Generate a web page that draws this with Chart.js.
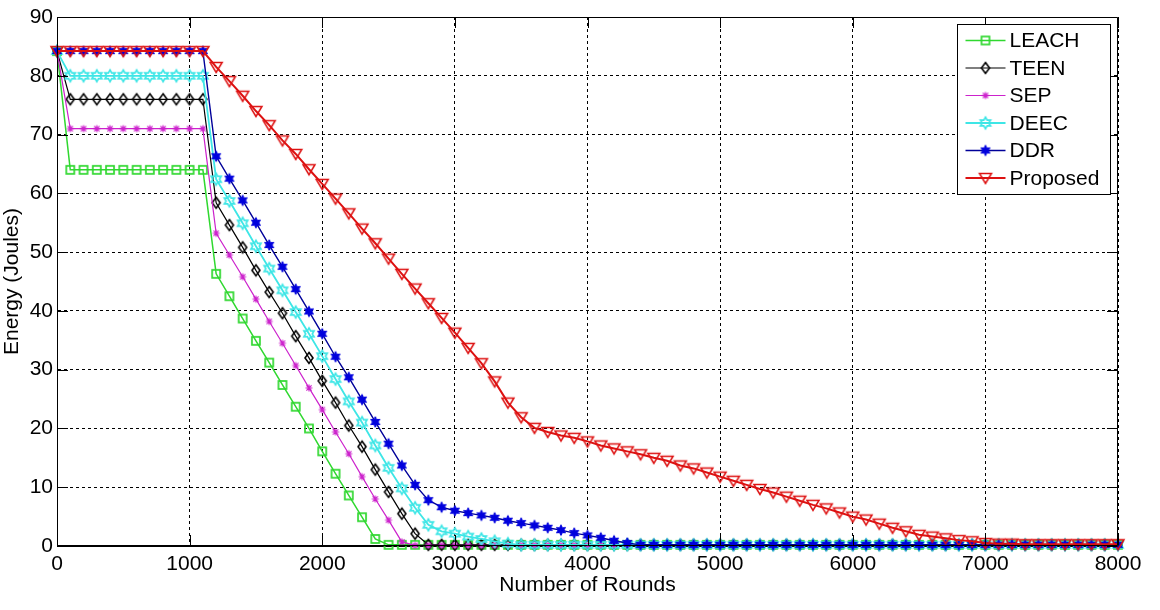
<!DOCTYPE html>
<html>
<head>
<meta charset="utf-8">
<script src="https://cdn.jsdelivr.net/npm/chart.js@4.4.1/dist/chart.umd.min.js"></script>
<style>
    html, body { margin: 0; padding: 0; background: #fff; }
    #wrap { width: 1160px; height: 610px; }
</style>
</head>
<body>
<div id="wrap"><canvas id="chart"></canvas></div>
<script>
const rounds = [
    0, 100, 200, 300, 400, 500, 600, 700, 800, 900,
    1000, 1100, 1200, 1300, 1400, 1500, 1600, 1700, 1800, 1900,
    2000, 2100, 2200, 2300, 2400, 2500, 2600, 2700, 2800, 2900,
    3000, 3100, 3200, 3300, 3400, 3500, 3600, 3700, 3800, 3900,
    4000, 4100, 4200, 4300, 4400, 4500, 4600, 4700, 4800, 4900,
    5000, 5100, 5200, 5300, 5400, 5500, 5600, 5700, 5800, 5900,
    6000, 6100, 6200, 6300, 6400, 6500, 6600, 6700, 6800, 6900,
    7000, 7100, 7200, 7300, 7400, 7500, 7600, 7700, 7800, 7900,
    8000
]

const leach = [
    84.2, 64, 64, 64, 64, 64, 64, 64, 64, 64,
    64, 64, 46.3, 42.5, 38.7, 34.9, 31.2, 27.4, 23.7, 20.0,
    16.1, 12.3, 8.6, 4.9, 1.2, 0.2, 0.2, 0.2, 0.2, 0.2,
    0.2, 0.2, 0.2, 0.2, 0.2, 0.2, 0.2, 0.2, 0.2, 0.2,
    0.2, 0.2, 0.2, 0.2, 0.2, 0.2, 0.2, 0.2, 0.2, 0.2,
    0.2, 0.2, 0.2, 0.2, 0.2, 0.2, 0.2, 0.2, 0.2, 0.2,
    0.2, 0.2, 0.2, 0.2, 0.2, 0.2, 0.2, 0.2, 0.2, 0.2,
    0.2, 0.2, 0.2, 0.2, 0.2, 0.2, 0.2, 0.2, 0.2, 0.2,
    0.2
]

const teen = [
    84.2, 76, 76, 76, 76, 76, 76, 76, 76, 76,
    76, 76, 58.4, 54.6, 50.8, 46.9, 43.2, 39.6, 35.7, 32.0,
    28.1, 24.4, 20.5, 16.9, 13.0, 9.2, 5.5, 2.1, 0.2, 0.2,
    0.2, 0.2, 0.2, 0.2, 0.2, 0.2, 0.2, 0.2, 0.2, 0.2,
    0.2, 0.2, 0.2, 0.2, 0.2, 0.2, 0.2, 0.2, 0.2, 0.2,
    0.2, 0.2, 0.2, 0.2, 0.2, 0.2, 0.2, 0.2, 0.2, 0.2,
    0.2, 0.2, 0.2, 0.2, 0.2, 0.2, 0.2, 0.2, 0.2, 0.2,
    0.2, 0.2, 0.2, 0.2, 0.2, 0.2, 0.2, 0.2, 0.2, 0.2,
    0.2
]

const sep = [
    84.2, 71, 71, 71, 71, 71, 71, 71, 71, 71,
    71, 71, 53.2, 49.5, 45.8, 42.0, 38.2, 34.5, 30.7, 26.9,
    23.2, 19.4, 15.7, 11.8, 8.0, 4.4, 0.7, 0.1, 0.1, 0.1,
    0.1, 0.1, 0.1, 0.1, 0.1, 0.1, 0.1, 0.1, 0.1, 0.1,
    0.1, 0.1, 0.1, 0.1, 0.1, 0.1, 0.1, 0.1, 0.1, 0.1,
    0.1, 0.1, 0.1, 0.1, 0.1, 0.1, 0.1, 0.1, 0.1, 0.1,
    0.1, 0.1, 0.1, 0.1, 0.1, 0.1, 0.1, 0.1, 0.1, 0.1,
    0.1, 0.1, 0.1, 0.1, 0.1, 0.1, 0.1, 0.1, 0.1, 0.1,
    0.1
]

const deec = [
    84.2, 80, 80, 80, 80, 80, 80, 80, 80, 80,
    80, 80, 62.4, 58.7, 54.9, 51.0, 47.2, 43.5, 39.8, 36.1,
    32.3, 28.4, 24.6, 21.0, 17.1, 13.3, 9.8, 6.5, 3.6, 2.5,
    2.1, 1.6, 1.2, 0.8, 0.4, 0.2, 0.2, 0.2, 0.2, 0.2,
    0.2, 0.2, 0.2, 0.2, 0.2, 0.2, 0.2, 0.2, 0.2, 0.2,
    0.2, 0.2, 0.2, 0.2, 0.2, 0.2, 0.2, 0.2, 0.2, 0.2,
    0.2, 0.2, 0.2, 0.2, 0.2, 0.2, 0.2, 0.2, 0.2, 0.2,
    0.2, 0.2, 0.2, 0.2, 0.2, 0.2, 0.2, 0.2, 0.2, 0.2,
    0.2
]

const ddr = [
    84.2, 84.2, 84.2, 84.2, 84.2, 84.2, 84.2, 84.2, 84.2, 84.2,
    84.2, 84.2, 66.3, 62.5, 58.8, 55.0, 51.2, 47.5, 43.7, 39.9,
    36.1, 32.2, 28.7, 24.9, 21.1, 17.4, 13.7, 10.4, 7.8, 6.6,
    6.0, 5.6, 5.2, 4.8, 4.3, 3.9, 3.5, 3.1, 2.7, 2.2,
    1.8, 1.4, 0.9, 0.5, 0.2, 0.2, 0.2, 0.2, 0.2, 0.2,
    0.2, 0.2, 0.2, 0.2, 0.2, 0.2, 0.2, 0.2, 0.2, 0.2,
    0.2, 0.2, 0.2, 0.2, 0.2, 0.2, 0.2, 0.2, 0.2, 0.2,
    0.2, 0.2, 0.2, 0.2, 0.2, 0.2, 0.2, 0.2, 0.2, 0.2,
    0.2
]

const proposed = [
    84.2, 84.2, 84.2, 84.2, 84.2, 84.2, 84.2, 84.2, 84.2, 84.2,
    84.2, 84.2, 81.5, 79.1, 76.6, 74.0, 71.6, 69.0, 66.7, 64.1,
    61.6, 59.1, 56.6, 54.0, 51.5, 48.9, 46.3, 43.8, 41.3, 38.8,
    36.3, 33.7, 31.1, 28.0, 24.4, 21.9, 20.1, 19.4, 18.8, 18.4,
    17.8, 17.1, 16.6, 16.1, 15.6, 15.0, 14.5, 13.7, 13.2, 12.5,
    11.8, 11.1, 10.4, 9.7, 9.1, 8.4, 7.7, 7.0, 6.4, 5.7,
    5.0, 4.5, 3.8, 3.1, 2.5, 1.9, 1.6, 1.3, 1.0, 0.8,
    0.5, 0.4, 0.4, 0.3, 0.3, 0.3, 0.3, 0.3, 0.3, 0.3,
    0.3
]

const seriesNames = ['LEACH', 'TEEN', 'SEP', 'DEEC', 'DDR', 'Proposed']
const xTicks = [0, 1000, 2000, 3000, 4000, 5000, 6000, 7000, 8000]
const yTicks = [0, 10, 20, 30, 40, 50, 60, 70, 80, 90]

const FONT = '"Liberation Sans", Arial, sans-serif'
Chart.defaults.font.family = FONT
Chart.defaults.font.size = 21
Chart.defaults.color = '#000'

// little canvases used as point styles (matlab-like markers)
function makeMarker(draw) {
    const c = document.createElement('canvas')
    c.width = 18
    c.height = 18
    const g = c.getContext('2d')
    g.translate(9, 9)
    draw(g)
    return c
}

function starPath(g, outer, inner) {
    g.beginPath()
    for (let k = 0; k < 12; k++) {
        const r = k % 2 === 0 ? outer : inner
        const a = -Math.PI / 2 + k * Math.PI / 6
        if (k === 0) g.moveTo(r * Math.cos(a), r * Math.sin(a))
        else g.lineTo(r * Math.cos(a), r * Math.sin(a))
    }
    g.closePath()
}

const squareMk = makeMarker(g => {
    g.strokeStyle = '#2fd82f'
    g.lineWidth = 1.7
    g.strokeRect(-4, -4, 8, 8)
})
const diamondMk = makeMarker(g => {
    g.strokeStyle = '#000'
    g.lineWidth = 1.6
    g.beginPath()
    g.moveTo(0, -5.5)
    g.lineTo(4, 0)
    g.lineTo(0, 5.5)
    g.lineTo(-4, 0)
    g.closePath()
    g.stroke()
})
const asteriskMk = makeMarker(g => {
    g.strokeStyle = '#cc22cc'
    g.lineWidth = 1.2
    g.beginPath()
    g.moveTo(-3.5, 0); g.lineTo(3.5, 0)
    g.moveTo(0, -3.5); g.lineTo(0, 3.5)
    g.moveTo(-2.6, -2.6); g.lineTo(2.6, 2.6)
    g.moveTo(-2.6, 2.6); g.lineTo(2.6, -2.6)
    g.stroke()
})
const hexOpenMk = makeMarker(g => {
    g.strokeStyle = '#3ee6e6'
    g.lineWidth = 1.7
    starPath(g, 5.8, 3.3)
    g.stroke()
})
const hexFillMk = makeMarker(g => {
    g.fillStyle = '#0000dd'
    g.strokeStyle = '#0000dd'
    g.lineWidth = 1
    starPath(g, 5.3, 2.8)
    g.fill()
    g.stroke()
})
const triDownMk = makeMarker(g => {
    g.strokeStyle = '#dd1111'
    g.lineWidth = 1.5
    g.beginPath()
    g.moveTo(-6, -4.5)
    g.lineTo(6, -4.5)
    g.lineTo(0, 5.5)
    g.closePath()
    g.stroke()
})

const allValues = [leach, teen, sep, deec, ddr, proposed]
const lineColors = ['#2fd82f', '#000000', '#cc22cc', '#3ee6e6', '#000099', '#dd1111']
const lineWidths = [1.5, 1.2, 1.2, 1.8, 1.4, 2]
const markers = [squareMk, diamondMk, asteriskMk, hexOpenMk, hexFillMk, triDownMk]

const datasets = seriesNames.map((name, i) => ({
    label: name,
    data: rounds.map((r, j) => ({ x: r, y: allValues[i][j] })),
    borderColor: lineColors[i],
    borderWidth: lineWidths[i],
    pointStyle: markers[i],
    pointRadius: 5,
    pointHoverRadius: 5,
    tension: 0,
    fill: false,
    clip: false,
    order: seriesNames.length - i
}))

// solid box round the plot + small inward tick marks like matlab
const framePlugin = {
    id: 'frame',
    afterDatasetsDraw(chart) {
        const { ctx, chartArea: a, scales } = chart
        const L = Math.round(a.left) + 0.5
        const R = Math.round(a.right) - 0.5
        const T = Math.round(a.top) + 0.5
        const B = Math.round(a.bottom) - 0.5
        const tl = 10.5
        ctx.save()
        ctx.strokeStyle = '#000'
        ctx.lineWidth = 1
        ctx.setLineDash([])
        ctx.beginPath()
        ctx.rect(L, T, R - L, B - T)
        xTicks.forEach(v => {
            const px = Math.round(scales.x.getPixelForValue(v)) + 0.5
            ctx.moveTo(px, B); ctx.lineTo(px, B - tl)
            ctx.moveTo(px, T); ctx.lineTo(px, T + tl)
        })
        yTicks.forEach(v => {
            const py = Math.round(scales.y.getPixelForValue(v)) + 0.5
            ctx.moveTo(L, py); ctx.lineTo(L + tl, py)
            ctx.moveTo(R, py); ctx.lineTo(R - tl, py)
        })
        ctx.stroke()
        ctx.restore()
    }
}

const legendPlugin = {
    id: 'boxLegend',
    afterDraw(chart) {
        const { ctx, chartArea: a } = chart
        const L = Math.round(a.right) - 160.5
        const T = Math.round(a.top) + 7.5
        ctx.save()
        ctx.fillStyle = '#fff'
        ctx.fillRect(L, T, 153, 170)
        ctx.strokeStyle = '#000'
        ctx.lineWidth = 1
        ctx.strokeRect(L, T, 153, 170)
        chart.data.datasets.forEach((ds, i) => {
            const cy = T + 16 + i * 27.5
            ctx.strokeStyle = ds.borderColor
            ctx.lineWidth = ds.borderWidth
            ctx.beginPath()
            ctx.moveTo(L + 8, cy)
            ctx.lineTo(L + 48, cy)
            ctx.stroke()
            ctx.drawImage(ds.pointStyle, L + 28 - 9, cy - 9)
            ctx.fillStyle = '#000'
            ctx.font = '21px ' + FONT
            ctx.textBaseline = 'middle'
            ctx.textAlign = 'left'
            ctx.fillText(ds.label, L + 52, cy + 1)
        })
        ctx.restore()
    }
}

new Chart(document.getElementById('chart'), {
    type: 'line',
    data: { datasets },
    plugins: [framePlugin, legendPlugin],
    options: {
        responsive: true,
        maintainAspectRatio: false,
        animation: false,
        layout: { padding: { left: 0, top: 17, right: 42, bottom: 0 } },
        plugins: {
            legend: { display: false },
            tooltip: { enabled: false }
        },
        scales: {
            x: {
                type: 'linear',
                min: 0,
                max: 8000,
                afterBuildTicks: s => { s.ticks = xTicks.map(v => ({ value: v })) },
                afterFit: s => { s.height = 64 },
                ticks: { padding: 6, maxRotation: 0, autoSkip: false, color: '#000', callback: v => String(v) },
                grid: { color: '#000', lineWidth: 1, drawTicks: false },
                border: { display: true, color: '#000', width: 1, dash: [3, 3] },
                title: { display: true, text: 'Number of Rounds', color: '#000', padding: { top: 0, bottom: 12 } }
            },
            y: {
                type: 'linear',
                min: 0,
                max: 90,
                afterBuildTicks: s => { s.ticks = yTicks.map(v => ({ value: v })) },
                afterFit: s => { s.width = 57 },
                ticks: { padding: 4, color: '#000', callback: v => String(v) },
                grid: { color: '#000', lineWidth: 1, drawTicks: false },
                border: { display: true, color: '#000', width: 1, dash: [3, 3] },
                title: { display: true, text: 'Energy (Joules)', color: '#000', padding: { top: 0, bottom: 0 } }
            }
        }
    }
})
</script>
</body>
</html>
